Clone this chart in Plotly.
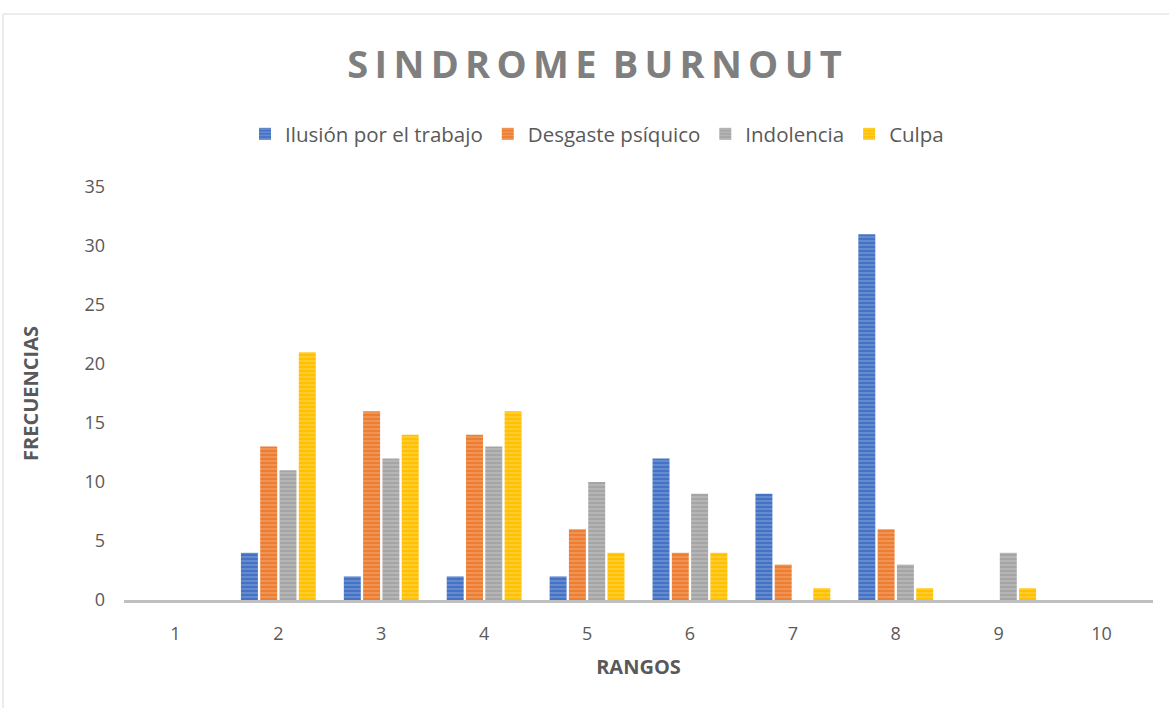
import plotly.graph_objects as go

categories = ["1", "2", "3", "4", "5", "6", "7", "8", "9", "10"]
series_names = ["Ilusión por el trabajo", "Desgaste psíquico", "Indolencia", "Culpa"]
ilusion = [0, 4, 2, 2, 2, 12, 9, 31, 0, 0]
desgaste = [0, 13, 16, 14, 6, 4, 3, 6, 0, 0]
indolencia = [0, 11, 12, 13, 10, 9, 0, 3, 4, 0]
culpa = [0, 21, 14, 16, 4, 4, 1, 1, 1, 0]
y_ticks = [0, 5, 10, 15, 20, 25, 30, 35]

colors = ["#4472C4", "#ED7D31", "#A5A5A5", "#FFC000"]
values = [ilusion, desgaste, indolencia, culpa]

fig = go.Figure()
for name, vals, col in zip(series_names, values, colors):
    fig.add_trace(go.Bar(
        x=categories, y=vals, name=name,
        marker=dict(color=col, line=dict(width=0),
                    pattern=dict(shape="-", fgcolor="rgba(255,255,255,0.5)",
                                 bgcolor=col, size=4, solidity=0.35)),
    ))

W, H = 1169, 708
L, R, T, B = 124, 16, 187, 108
pw, ph = W - L - R, H - T - B

title_text = "\u2009".join("SINDROME") + " \u2009" + "\u2009".join("BURNOUT")

fig.update_layout(
    width=W, height=H,
    margin=dict(l=L, r=R, t=T, b=B),
    paper_bgcolor="white", plot_bgcolor="white",
    barmode="group", bargap=0.25, bargroupgap=0.12,
    font=dict(family="Open Sans", color="#595959"),
    title=dict(text=title_text,
               x=594.5 / W, xref="container", xanchor="center",
               y=1 - 65 / H, yref="container", yanchor="middle",
               font=dict(family="Open Sans", size=38, color="#7F7F7F", weight="bold")),
    legend=dict(orientation="h", x=(597 - L) / pw, xanchor="center",
                y=1 + (T - 134) / ph, yanchor="middle",
                font=dict(size=20.5, color="#595959"), itemwidth=30,
                traceorder="normal"),
    xaxis=dict(showgrid=False, showline=True, linecolor="#BFBFBF", linewidth=2.5,
               tickfont=dict(size=18, color="#595959"), ticks="", ticklabelstandoff=16,
               title=dict(text="RANGOS", font=dict(size=20, color="#595959", weight="bold"),
                          standoff=16)),
    yaxis=dict(range=[0, 35], tickvals=y_ticks, showgrid=False, zeroline=False,
               showline=False, tickfont=dict(size=18, color="#595959"), ticks="",
               ticklabelstandoff=18,
               title=dict(text="FRECUENCIAS", font=dict(size=20, color="#595959", weight="bold"),
                          standoff=40)),
    shapes=[dict(type="rect", xref="paper", yref="paper",
                 x0=(3 - L) / pw, x1=1.2, y0=-0.5, y1=1 + (T - 14) / ph,
                 line=dict(color="#D9D9D9", width=1), fillcolor="rgba(0,0,0,0)", layer="below")],
)

fig.write_html("out.html", config={"displayModeBar": False},
               post_script="document.body.style.margin='0';")
